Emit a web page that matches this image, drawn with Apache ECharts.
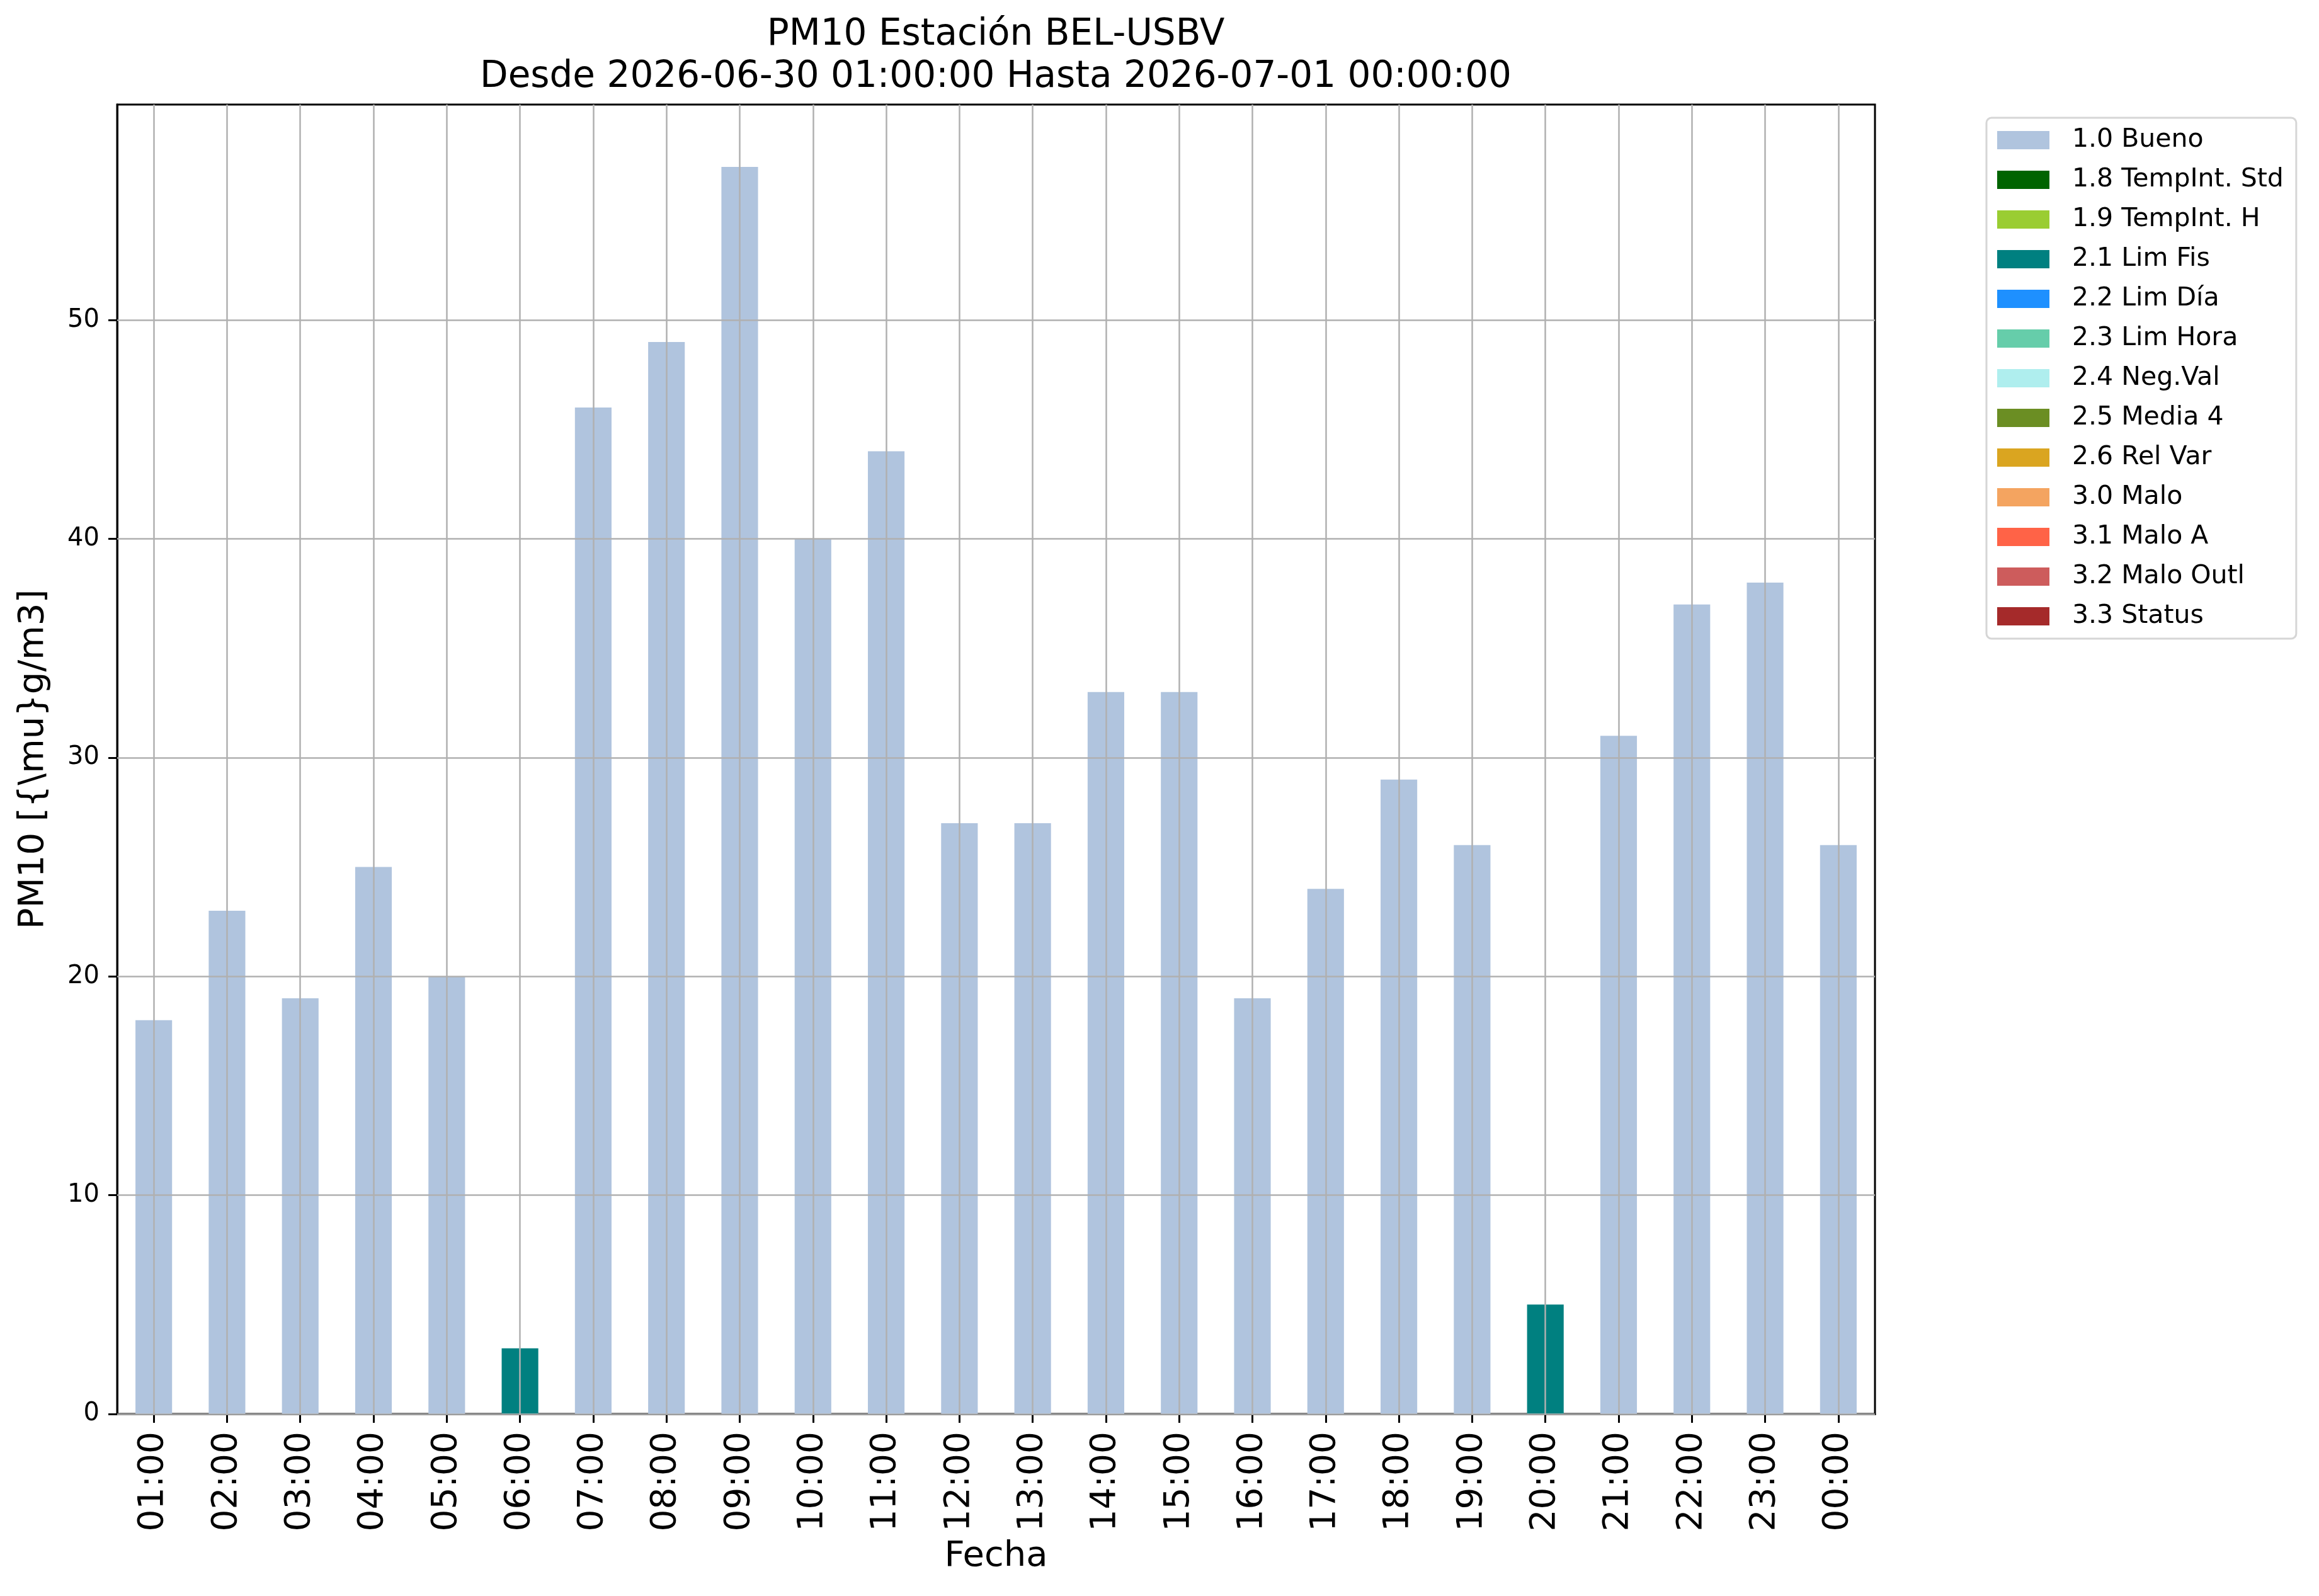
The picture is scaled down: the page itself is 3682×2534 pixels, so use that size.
<!DOCTYPE html>
<html>
<head>
<meta charset="utf-8">
<script src="https://cdn.jsdelivr.net/npm/echarts@6/dist/echarts.min.js"></script>
<style>
html,body{margin:0;padding:0;background:#fff;}
#chart{width:3682px;height:2534px;}
</style>
</head>
<body>
<div id="chart"></div>
<script>
const hours = ['01:00','02:00','03:00','04:00','05:00','06:00','07:00','08:00','09:00','10:00','11:00','12:00',
  '13:00','14:00','15:00','16:00','17:00','18:00','19:00','20:00','21:00','22:00','23:00','00:00'];
const bueno  = [18,23,19,25,20,null,46,49,57,40,44,27,27,33,33,19,24,29,26,null,31,37,38,26];
const limFis = [null,null,null,null,null,3,null,null,null,null,null,null,null,null,null,null,null,null,null,5,null,null,null,null];
const noData = [];
const flagNames = ['1.0 Bueno','1.8 TempInt. Std','1.9 TempInt. H','2.1 Lim Fis','2.2 Lim Día','2.3 Lim Hora',
  '2.4 Neg.Val','2.5 Media 4','2.6 Rel Var','3.0 Malo','3.1 Malo A','3.2 Malo Outl','3.3 Status'];
const flagColors = ['#B0C4DE','#006400','#9ACD32','#008080','#1E90FF','#66CDAA','#AFEEEE','#6B8E23',
  '#DAA520','#F4A460','#FF6347','#CD5C5C','#A52A2A'];
const flagData = [bueno, noData, noData, limFis, noData, noData, noData, noData, noData, noData, noData, noData, noData];
const yTicks = [0,10,20,30,40,50];
const yMax = 59.85;
const titleText = 'PM10 Estación BEL-USBV\nDesde 2026-06-30 01:00:00 Hasta 2026-07-01 00:00:00';
const yName = 'PM10 [{\\mu}g/m3]';
const xName = 'Fecha';

const FONT = 'DejaVu Sans';
const chart = echarts.init(document.getElementById('chart'), null, {renderer:'canvas'});

const series = flagNames.map((n, i) => ({
  name: n, type: 'bar', stack: 'total', barWidth: '50%',
  itemStyle: {color: flagColors[i]},
  data: flagData[i], z: 2
}));

const gridStyle = {color:'#b0b0b0', width:2.5, type:'solid'};
series.push({
  name: '__grid', type: 'line', data: [], z: 5, silent: true,
  markLine: {
    silent: true, symbol: ['none','none'], animation: false,
    label: {show:false}, lineStyle: gridStyle,
    emphasis: {disabled: true},
    data: hours.map(h => ({xAxis: h})).concat(yTicks.map(v => ({yAxis: v})))
  }
});

chart.setOption({
  animation: false,
  backgroundColor: '#fff',
  textStyle: {fontFamily: FONT},
  title: {
    text: titleText, left: 1581, top: 22, textAlign: 'center', padding: 0,
    textStyle: {fontFamily: FONT, fontSize: 58, fontWeight: 'normal', color: '#000', lineHeight: 67}
  },
  legend: {
    orient: 'vertical', left: 3154, top: 187,
    data: flagNames,
    icon: 'rect', itemWidth: 83, itemHeight: 29, itemGap: 22,
    padding: [15, 20, 15, 17],
    borderColor: '#d6d6d6', borderWidth: 3, borderRadius: 8, backgroundColor: '#fff',
    textStyle: {fontFamily: FONT, fontSize: 41, color: '#000', padding: [0,0,0,31]},
    selectedMode: false
  },
  grid: {
    left: 186, top: 166, right: 705, bottom: 289, containLabel: false,
    show: true, borderColor: '#000', borderWidth: 3, backgroundColor: 'transparent'
  },
  xAxis: {
    type: 'category', data: hours, boundaryGap: true,
    name: xName, nameLocation: 'middle', nameGap: 198,
    nameTextStyle: {fontFamily: FONT, fontSize: 56, color: '#000'},
    axisLine: {show: true, lineStyle: {color:'#000', width: 3}},
    axisTick: {show: true, alignWithLabel: true, length: 14, lineStyle: {color:'#000', width: 3}},
    axisLabel: {rotate: 90, fontFamily: FONT, fontSize: 55, color: '#000', margin: 28, interval: 0},
    splitLine: {show: false}
  },
  yAxis: {
    type: 'value', min: 0, max: yMax, interval: 10,
    name: yName, nameLocation: 'middle', nameGap: 105, nameRotate: 90,
    nameTextStyle: {fontFamily: FONT, fontSize: 56, color: '#000'},
    axisLine: {show: true, lineStyle: {color:'#000', width: 3}},
    axisTick: {show: true, length: 14, lineStyle: {color:'#000', width: 3}},
    axisLabel: {fontFamily: FONT, fontSize: 40, color: '#000', margin: 28, showMaxLabel: false,
      formatter: v => (yTicks.indexOf(v) >= 0 ? String(v) : '')},
    splitLine: {show: false}
  },
  series: series
});
</script>
</body>
</html>
